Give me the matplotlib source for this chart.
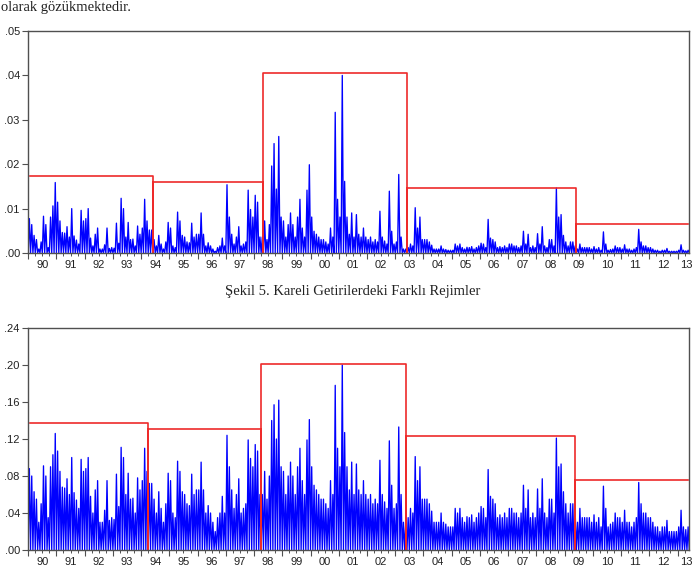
import numpy as np
import matplotlib
matplotlib.use("Agg")
import matplotlib.pyplot as plt
from matplotlib.transforms import blended_transform_factory

# monthly peaks of absolute daily returns (Jan 1990 .. May 2013)
y1990 = [0.088, 0.080, 0.063, 0.055, 0.030, 0.050, 0.091, 0.080, 0.035, 0.090, 0.103, 0.126]
y1991 = [0.107, 0.085, 0.068, 0.067, 0.077, 0.060, 0.100, 0.062, 0.054, 0.045, 0.098, 0.085]
y1992 = [0.088, 0.100, 0.058, 0.040, 0.065, 0.075, 0.030, 0.030, 0.043, 0.075, 0.032, 0.035]
y1993 = [0.033, 0.082, 0.047, 0.111, 0.100, 0.060, 0.083, 0.055, 0.056, 0.040, 0.078, 0.065]
y1994 = [0.075, 0.110, 0.085, 0.072, 0.072, 0.055, 0.040, 0.063, 0.045, 0.030, 0.050, 0.083]
y1995 = [0.075, 0.040, 0.035, 0.096, 0.085, 0.063, 0.060, 0.050, 0.048, 0.082, 0.060, 0.065]
y1996 = [0.065, 0.095, 0.065, 0.040, 0.048, 0.040, 0.030, 0.020, 0.035, 0.040, 0.058, 0.040]
y1997 = [0.124, 0.090, 0.065, 0.045, 0.060, 0.077, 0.040, 0.045, 0.050, 0.119, 0.099, 0.090]
y1998 = [0.114, 0.107, 0.060, 0.060, 0.085, 0.055, 0.080, 0.140, 0.157, 0.120, 0.162, 0.090]
y1999 = [0.085, 0.060, 0.080, 0.095, 0.080, 0.060, 0.090, 0.110, 0.075, 0.060, 0.119, 0.141]
y2000 = [0.090, 0.070, 0.065, 0.060, 0.055, 0.055, 0.050, 0.045, 0.075, 0.060, 0.178, 0.110]
y2001 = [0.090, 0.200, 0.127, 0.090, 0.065, 0.095, 0.060, 0.093, 0.065, 0.060, 0.075, 0.060]
y2002 = [0.055, 0.060, 0.050, 0.055, 0.050, 0.097, 0.060, 0.052, 0.045, 0.118, 0.070, 0.045]
y2003 = [0.050, 0.133, 0.060, 0.030, 0.030, 0.035, 0.045, 0.040, 0.101, 0.075, 0.090, 0.055]
y2004 = [0.055, 0.055, 0.050, 0.042, 0.030, 0.030, 0.030, 0.040, 0.030, 0.028, 0.025, 0.025]
y2005 = [0.025, 0.045, 0.040, 0.045, 0.035, 0.030, 0.036, 0.035, 0.038, 0.030, 0.035, 0.040]
y2006 = [0.047, 0.045, 0.035, 0.087, 0.058, 0.055, 0.050, 0.035, 0.038, 0.035, 0.040, 0.035]
y2007 = [0.045, 0.045, 0.040, 0.040, 0.035, 0.040, 0.070, 0.045, 0.065, 0.035, 0.040, 0.035]
y2008 = [0.066, 0.045, 0.077, 0.040, 0.035, 0.055, 0.055, 0.040, 0.121, 0.090, 0.093, 0.063]
y2009 = [0.050, 0.040, 0.050, 0.050, 0.040, 0.030, 0.045, 0.035, 0.035, 0.035, 0.035, 0.030]
y2010 = [0.038, 0.030, 0.035, 0.025, 0.069, 0.045, 0.025, 0.028, 0.030, 0.040, 0.035, 0.035]
y2011 = [0.030, 0.043, 0.030, 0.030, 0.025, 0.030, 0.035, 0.073, 0.050, 0.040, 0.040, 0.035]
y2012 = [0.035, 0.030, 0.025, 0.025, 0.020, 0.025, 0.025, 0.032, 0.020, 0.020, 0.020, 0.020]
y2013 = [0.025, 0.043, 0.025, 0.022, 0.025]

# regime breaks (decimal years) and regime levels, one set per panel
sq_breaks = [1994.42, 1998.32, 2003.42, 2009.42]
sq_levels = [0.0174, 0.0161, 0.0406, 0.0146, 0.0066]
abs_breaks = [1994.23, 1998.26, 2003.38, 2009.38]
abs_levels = [0.1376, 0.1308, 0.2007, 0.1232, 0.0760]

years = list(range(1990, 2014))
year_labels = [f"{y % 100:02d}" for y in years]

start = 1990.0
end = 2013.0 + 5 / 12.0
regime_start = 1990.05
regime_end = 2013.36

abs_ret = np.array(y1990 + y1991 + y1992 + y1993 + y1994 + y1995 + y1996 + y1997
                   + y1998 + y1999 + y2000 + y2001 + y2002 + y2003 + y2004 + y2005
                   + y2006 + y2007 + y2008 + y2009 + y2010 + y2011 + y2012 + y2013)
sq_ret = abs_ret ** 2

BLUE = "#0000ff"
RED = "#ee2a2a"
FRAME = "#505050"


def spike_path(values):
    # zigzag: back to zero at every month boundary, peak at month centre
    n = len(values)
    xs = np.empty(2 * n + 1)
    ys = np.zeros(2 * n + 1)
    xs[0::2] = start + np.arange(n + 1) / 12.0
    xs[1::2] = start + (np.arange(n) + 0.5) / 12.0
    ys[1::2] = values
    return xs, ys


def regime_path(breaks, levels):
    edges = [regime_start] + breaks + [regime_end]
    xs, ys = [], []
    for i, lev in enumerate(levels):
        if i > 0:
            xs.append(edges[i])
            ys.append(0.0)
        xs += [edges[i], edges[i + 1]]
        ys += [lev, lev]
        if i < len(levels) - 1:
            xs.append(edges[i + 1])
            ys.append(0.0)
    return xs, ys


def draw_panel(ax, values, breaks, levels, ymax, step):
    xs, ys = spike_path(values)
    ax.plot(xs, ys, color=BLUE, lw=0.95)
    rx, ry = regime_path(breaks, levels)
    ax.plot(rx, ry, color=RED, lw=1.2)

    ax.set_xlim(start, end)
    ax.set_ylim(0, ymax)
    yt = np.arange(0, ymax + step / 2, step)
    ax.set_yticks(yt)
    ax.set_yticklabels([f"{v:.2f}".lstrip("0") for v in yt],
                       fontfamily="Liberation Sans", fontsize=8, color="#222222")
    ax.set_xticks(years)
    ax.set_xticklabels([])
    ax.set_xticks(np.arange(start, end, 0.25), minor=True)
    ax.tick_params(axis="x", which="major", length=4, width=0.8, color=FRAME, direction="out")
    ax.tick_params(axis="x", which="minor", length=2, width=0.7, color=FRAME, direction="out")
    ax.tick_params(axis="y", length=4, width=0.8, color=FRAME, direction="out", pad=2)
    for s in ax.spines.values():
        s.set_color(FRAME)
        s.set_linewidth(1.0)

    trans = blended_transform_factory(ax.transData, ax.transAxes)
    for y, lab in zip(years, year_labels):
        xpos = y + 0.5 if y + 1 <= end else end - 0.09
        ax.text(xpos, -0.055, lab, transform=trans, ha="center", va="center",
                fontfamily="Liberation Sans", fontsize=8, color="#222222")


fig = plt.figure(figsize=(6.95, 5.85), dpi=100)
ax_sq = fig.add_axes([28.2 / 695, 1 - 253 / 585, 661.1 / 695, 222 / 585])
ax_abs = fig.add_axes([28.2 / 695, 1 - 550 / 585, 661.1 / 695, 222 / 585])

draw_panel(ax_sq, sq_ret, sq_breaks, sq_levels, 0.05, 0.01)
draw_panel(ax_abs, abs_ret, abs_breaks, abs_levels, 0.24, 0.04)

fig.text(1 / 695, 1 - 11 / 585, "olarak gözükmektedir.", ha="left", va="baseline",
         fontfamily="Liberation Serif", fontsize=10.5, color="#222222")
fig.text(353 / 695, 1 - 292 / 585, "Şekil 5. Kareli Getirilerdeki Farklı Rejimler",
         ha="center", va="center", fontfamily="Liberation Serif", fontsize=10.5,
         color="#222222")

fig.savefig("out.png", dpi=100)
